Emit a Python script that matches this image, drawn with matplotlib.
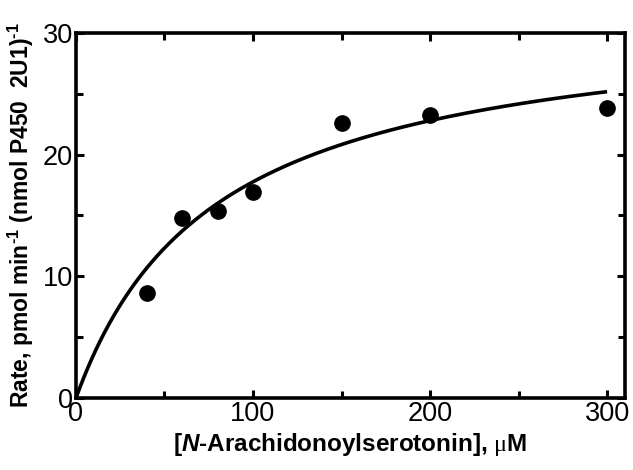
import numpy as np
import matplotlib
matplotlib.use("Agg")
import matplotlib.pyplot as plt
from matplotlib.ticker import MultipleLocator

plt.rcParams['font.family'] = ['Liberation Sans', 'DejaVu Sans']
plt.rcParams['mathtext.fontset'] = 'custom'
plt.rcParams['mathtext.rm'] = 'Liberation Sans:bold'
plt.rcParams['mathtext.it'] = 'Liberation Sans:italic:bold'
plt.rcParams['mathtext.bf'] = 'Liberation Sans:bold'
plt.rcParams['mathtext.sf'] = 'Liberation Serif'

# measured data
conc_uM = [40, 60, 80, 100, 150, 200, 300]
rate = [8.6, 14.8, 15.4, 16.95, 22.6, 23.25, 23.8]

# Michaelis-Menten fit parameters
Vmax = 31.8
Km = 79.0
fit_xmax = 300

x_ticks = [0, 100, 200, 300]
y_ticks = [0, 10, 20, 30]

fig = plt.figure(figsize=(6.33, 4.70), dpi=100)
ax = fig.add_axes([0.120, 0.153, 0.867, 0.777])

xf = np.linspace(0, fit_xmax, 400)
ax.plot(xf, Vmax * xf / (Km + xf), color='black', lw=2.6, solid_capstyle='butt', zorder=2)
ax.plot(conc_uM, rate, 'o', color='black', ms=11, zorder=3)

ax.set_xlim(0, 310)
ax.set_ylim(0, 30)
ax.set_xticks(x_ticks)
ax.set_yticks(y_ticks)
ax.xaxis.set_minor_locator(MultipleLocator(50))
ax.yaxis.set_minor_locator(MultipleLocator(5))
ax.tick_params(which='both', direction='in', top=True, right=True, width=2.2,
               labelsize=19.5, pad=2)
ax.tick_params(which='major', length=6)
ax.tick_params(which='minor', length=5)
for s in ax.spines.values():
    s.set_linewidth(2.6)

ax.set_xlabel(r'[$\it{N}$-Arachidonoylserotonin], $\mathsf{\mu}$M', fontsize=17.5,
              fontweight='bold', labelpad=3)
ax.set_ylabel(r'Rate, pmol min$^{\text{-1}}$ (nmol P450  2U1)$^{\text{-1}}$', fontsize=16.5,
              fontweight='bold', labelpad=5)

fig.savefig('out.png', dpi=100)
